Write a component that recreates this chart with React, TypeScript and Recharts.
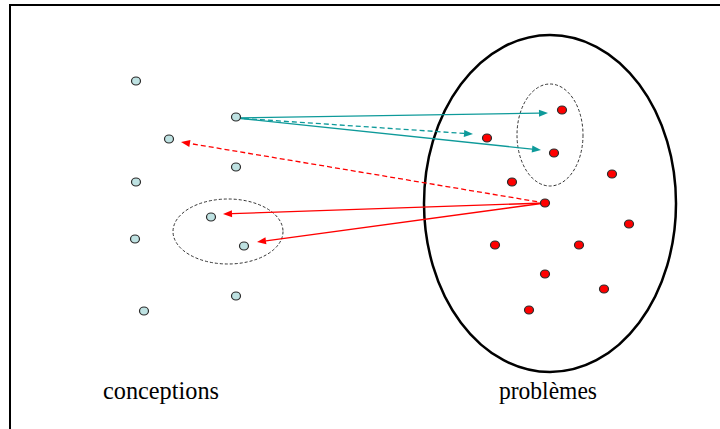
import React from 'react';
import { ScatterChart, Scatter, XAxis, YAxis, ReferenceArea, ReferenceLine } from 'recharts';

// points (x to the right, y downwards)
const conceptions = [
  { x: 136, y: 81 },
  { x: 236, y: 117 },
  { x: 169, y: 139 },
  { x: 236, y: 167 },
  { x: 136, y: 182 },
  { x: 211, y: 217 },
  { x: 135, y: 239 },
  { x: 244, y: 246 },
  { x: 236, y: 296 },
  { x: 144, y: 311 },
];

const problemes = [
  { x: 562, y: 110 },
  { x: 487, y: 138 },
  { x: 554, y: 153 },
  { x: 612, y: 174 },
  { x: 512, y: 182 },
  { x: 545, y: 203 },
  { x: 629, y: 224 },
  { x: 495, y: 245 },
  { x: 579, y: 245 },
  { x: 545, y: 274 },
  { x: 604, y: 289 },
  { x: 529, y: 310 },
];

// ellipses as bounding boxes
const ellipses = [
  { x1: 424, x2: 676, y1: 35, y2: 372, kind: 'big' },
  { x1: 517, x2: 583, y1: 84, y2: 186, kind: 'dashed' },
  { x1: 173, x2: 283, y1: 199, y2: 264, kind: 'dashed' },
];

const arrows = [
  { from: { x: 236, y: 118 }, to: { x: 548, y: 113 }, color: 'teal', dashed: false },
  { from: { x: 236, y: 118 }, to: { x: 473, y: 134 }, color: 'teal', dashed: true },
  { from: { x: 236, y: 118 }, to: { x: 541, y: 150 }, color: 'teal', dashed: false },
  { from: { x: 545, y: 203 }, to: { x: 181, y: 142 }, color: 'red', dashed: true },
  { from: { x: 545, y: 203 }, to: { x: 223, y: 214 }, color: 'red', dashed: false },
  { from: { x: 545, y: 203 }, to: { x: 257, y: 242 }, color: 'red', dashed: false },
];

const captions = [
  { x: 161, y: 399, text: 'conceptions', span: 116 },
  { x: 548, y: 399, text: 'problèmes', span: 98 },
];

const COLORS: Record<string, string> = { teal: '#0E9A9A', red: '#FF0000' };

const arrowShape = (color: string, dashed: boolean) => (p: any) => {
  const { x1, y1, x2, y2 } = p;
  const a = Math.atan2(y2 - y1, x2 - x1);
  const L = 9;
  const W = 3.5;
  const bx = x2 - L * Math.cos(a);
  const by = y2 - L * Math.sin(a);
  const px = -Math.sin(a) * W;
  const py = Math.cos(a) * W;
  return (
    <g>
      <line x1={x1} y1={y1} x2={bx} y2={by} stroke={color} strokeWidth={1.3} strokeDasharray={dashed ? '5 3' : undefined} />
      <polygon points={`${x2},${y2} ${bx + px},${by + py} ${bx - px},${by - py}`} fill={color} />
    </g>
  );
};

const ellipseShape = (kind: string) => (p: any) => {
  const w = Math.abs(p.width);
  const h = Math.abs(p.height);
  const x = Math.min(p.x, p.x + p.width);
  const y = Math.min(p.y, p.y + p.height);
  return (
    <ellipse
      cx={x + w / 2}
      cy={y + h / 2}
      rx={w / 2}
      ry={h / 2}
      fill="none"
      stroke={kind === 'big' ? '#000' : '#333'}
      strokeWidth={kind === 'big' ? 2.5 : 1}
      strokeDasharray={kind === 'big' ? undefined : '3 2'}
    />
  );
};

const Dot = (fill: string) => (p: any) => (
  <ellipse cx={p.cx} cy={p.cy} rx={4.5} ry={4} fill={fill} stroke="#2a2a2a" strokeWidth={1.2} />
);

const Caption = (p: any) => (
  <text
    x={p.cx}
    y={p.cy}
    textAnchor="middle"
    textLength={p.payload.span}
    lengthAdjust="spacingAndGlyphs"
    fontFamily="'Liberation Serif', 'Times New Roman', serif"
    fontSize={26}
    fill="#000"
  >
    {p.payload.text}
  </text>
);

export default function App() {
  return (
    <div style={{ position: 'absolute', left: 0, top: 0, width: 720, height: 429, overflow: 'hidden', background: '#fff' }}>
      <div
        style={{
          position: 'absolute',
          left: 9,
          top: 4,
          width: 800,
          height: 500,
          borderLeft: '2px solid #000',
          borderTop: '2px solid #000',
        }}
      />
      <div style={{ position: 'absolute', left: 0, top: 0 }}>
        <ScatterChart width={720} height={429} margin={{ top: 0, right: 0, bottom: 0, left: 0 }}>
          <XAxis type="number" dataKey="x" domain={[0, 720]} hide />
          <YAxis type="number" dataKey="y" domain={[0, 429]} reversed hide />
          {ellipses.map((e, i) => (
            <ReferenceArea key={'e' + i} x1={e.x1} x2={e.x2} y1={e.y1} y2={e.y2} ifOverflow="visible" shape={ellipseShape(e.kind)} />
          ))}
          {arrows.map((a, i) => (
            <ReferenceLine key={'a' + i} segment={[a.from, a.to]} ifOverflow="visible" shape={arrowShape(COLORS[a.color], a.dashed)} />
          ))}
          <Scatter data={conceptions} shape={Dot('#BEE2E2')} isAnimationActive={false} />
          <Scatter data={problemes} shape={Dot('#FF0000')} isAnimationActive={false} />
          <Scatter data={captions} shape={Caption} isAnimationActive={false} />
        </ScatterChart>
      </div>
    </div>
  );
}
